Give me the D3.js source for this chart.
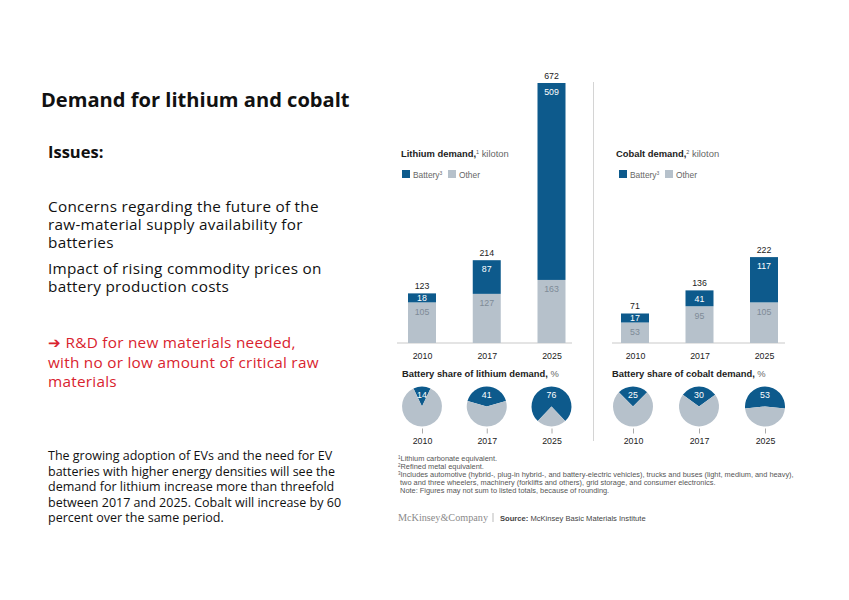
<!DOCTYPE html>
<html>
<head>
<meta charset="utf-8">
<script src="https://cdn.jsdelivr.net/npm/d3@7"></script>
<style>
  body { margin: 0; background: #fff; }
  svg { display: block; }
</style>
</head>
<body>
<div id="wrapper"></div>
<script>
const years = ["2010", "2017", "2025"];
const lithiumBattery = [18, 87, 509];
const lithiumOther = [105, 127, 163];
const lithiumTotal = [123, 214, 672];
const cobaltBattery = [17, 41, 117];
const cobaltOther = [53, 95, 105];
const cobaltTotal = [71, 136, 222];
const lithiumShare = [14, 41, 76];
const cobaltShare = [25, 30, 53];

const issueLines = [
  "Concerns regarding the future of the",
  "raw-material supply availability for",
  "batteries",
];
const impactLines = [
  "Impact of rising commodity prices on",
  "battery production costs",
];
const redLines = [
  "\u2794 R&D for new materials needed,",
  "with no or low amount of critical raw",
  "materials",
];
const paragraphLines = [
  "The growing adoption of EVs and the need for EV",
  "batteries with higher energy densities will see the",
  "demand for lithium increase more than threefold",
  "between 2017 and 2025. Cobalt will increase by 60",
  "percent over the same period.",
];
const footnotes = [
  ["1", "Lithium carbonate equivalent."],
  ["2", "Refined metal equivalent."],
  ["3", "Includes automotive (hybrid-, plug-in hybrid-, and battery-electric vehicles), trucks and buses (light, medium, and heavy),"],
  ["", " two and three wheelers, machinery (forklifts and others), grid storage, and consumer electronics."],
  ["", " Note: Figures may not sum to listed totals, because of rounding."],
];

const blue = "#0d5a8c";
const grey = "#b6c1cb";
const slideFont = "'Open Sans', sans-serif";
const chartFont = "'Liberation Sans', Arial, sans-serif";

const svg = d3.select("#wrapper")
  .append("svg")
  .attr("width", 849)
  .attr("height", 600);

svg.append("rect").attr("width", 849).attr("height", 600).attr("fill", "#fff");

// left-hand slide text
const left = svg.append("g").attr("font-family", slideFont).attr("fill", "#111");

left.append("text")
  .attr("x", 41).attr("y", 107)
  .attr("font-size", 20.1).attr("font-weight", "bold")
  .text("Demand for lithium and cobalt");

left.append("text")
  .attr("x", 48).attr("y", 158)
  .attr("font-size", 16.5).attr("font-weight", "bold")
  .text("Issues:");

left.selectAll(".issue")
  .data(issueLines)
  .join("text")
  .attr("x", 48).attr("y", (d, i) => 211.7 + i * 18.3)
  .attr("font-size", 15.3)
  .attr("letter-spacing", 0.27)
  .text(d => d);

left.selectAll(".impact")
  .data(impactLines)
  .join("text")
  .attr("x", 48).attr("y", (d, i) => 273.5 + i * 18.3)
  .attr("font-size", 15.3)
  .attr("letter-spacing", 0.27)
  .text(d => d);

left.selectAll(".red")
  .data(redLines)
  .join("text")
  .attr("x", 48).attr("y", (d, i) => 348 + i * 19.5)
  .attr("font-size", 15.3)
  .attr("letter-spacing", 0.27)
  .attr("fill", "#d9232e")
  .text(d => d);

left.selectAll(".para")
  .data(paragraphLines)
  .join("text")
  .attr("x", 48).attr("y", (d, i) => 460 + i * 15.5)
  .attr("font-size", 12.5)
  .text(d => d);

// stacked bar panels
const yScale = d3.scaleLinear()
  .domain([0, 672])
  .range([343, 83]);

const barWidth = 28;
const minSegment = 9; // small battery segments are drawn tall enough for their label

function drawBars(g, xRange, battery, other, total, axisRange) {
  const xScale = d3.scalePoint().domain(years).range(xRange);

  g.append("line")
    .attr("x1", axisRange[0]).attr("x2", axisRange[1])
    .attr("y1", yScale(0)).attr("y2", yScale(0))
    .attr("stroke", "#c9c9c9").attr("stroke-width", 1);

  const rows = years.map((y, i) => {
    const otherTop = yScale(other[i]);
    const batteryTop = Math.min(yScale(total[i]), otherTop - minSegment);
    return { year: y, battery: battery[i], other: other[i], total: total[i], otherTop, batteryTop };
  });

  g.selectAll(".other")
    .data(rows)
    .join("rect")
    .attr("x", d => xScale(d.year) - barWidth / 2)
    .attr("width", barWidth)
    .attr("y", d => d.otherTop)
    .attr("height", d => yScale(0) - d.otherTop)
    .attr("fill", grey);

  g.selectAll(".battery")
    .data(rows)
    .join("rect")
    .attr("x", d => xScale(d.year) - barWidth / 2)
    .attr("width", barWidth)
    .attr("y", d => d.batteryTop)
    .attr("height", d => d.otherTop - d.batteryTop)
    .attr("fill", blue);

  g.selectAll(".otherLabel")
    .data(rows)
    .join("text")
    .attr("x", d => xScale(d.year))
    .attr("y", d => d.otherTop + 12.5)
    .attr("text-anchor", "middle")
    .attr("font-size", 8.8)
    .attr("fill", "#7e8b97")
    .text(d => d.other);

  g.selectAll(".batteryLabel")
    .data(rows)
    .join("text")
    .attr("x", d => xScale(d.year))
    .attr("y", d => Math.min(d.batteryTop + 11.5, d.otherTop - 1.2))
    .attr("text-anchor", "middle")
    .attr("font-size", 8.8)
    .attr("fill", "#fff")
    .text(d => d.battery);

  g.selectAll(".totalLabel")
    .data(rows)
    .join("text")
    .attr("x", d => xScale(d.year))
    .attr("y", d => d.batteryTop - 4)
    .attr("text-anchor", "middle")
    .attr("font-size", 8.8)
    .attr("fill", "#222")
    .text(d => d.total);

  const xAxis = d3.axisBottom(xScale).tickSize(0).tickPadding(10);
  const axisG = g.append("g")
    .attr("transform", `translate(0,${yScale(0)})`)
    .call(xAxis);
  axisG.select(".domain").remove();
  axisG.selectAll("text")
    .attr("font-family", chartFont)
    .attr("font-size", 8.8)
    .attr("fill", "#222");
}

function drawTitle(g, x, y, bold, sup, rest) {
  const t = g.append("text").attr("x", x).attr("y", y).attr("font-size", 9.4).attr("fill", "#222");
  t.append("tspan").attr("font-weight", "bold").text(bold);
  if (sup) t.append("tspan").attr("font-size", 5.5).attr("dy", -3.5).attr("fill", "#555").text(sup);
  t.append("tspan").attr("dy", sup ? 3.5 : 0).attr("fill", "#666").text(rest);
}

function drawLegend(g, x, y) {
  g.append("rect").attr("x", x).attr("y", y).attr("width", 8).attr("height", 8).attr("fill", blue);
  const t = g.append("text").attr("x", x + 11).attr("y", y + 7.5).attr("font-size", 8.4).attr("fill", "#666");
  t.append("tspan").text("Battery");
  t.append("tspan").attr("font-size", 5).attr("dy", -3).text("3");
  g.append("rect").attr("x", x + 46).attr("y", y).attr("width", 8).attr("height", 8).attr("fill", grey);
  g.append("text").attr("x", x + 57).attr("y", y + 7.5).attr("font-size", 8.4).attr("fill", "#666").text("Other");
}

function drawPies(g, xRange, shares) {
  const xScale = d3.scalePoint().domain(years).range(xRange);
  const cy = 406.5;
  const r = 20;
  const arc = d3.arc().innerRadius(0).outerRadius(r);

  years.forEach((year, i) => {
    const share = shares[i];
    const start = -share / 100 * Math.PI;
    const pie = d3.pie().sort(null).startAngle(start).endAngle(start + 2 * Math.PI);
    const slices = pie([share, 100 - share]);
    const pg = g.append("g").attr("transform", `translate(${xScale(year)},${cy})`);
    pg.selectAll("path")
      .data(slices)
      .join("path")
      .attr("d", arc)
      .attr("fill", (d, j) => j === 0 ? blue : grey);
    pg.append("text")
      .attr("y", -8.5)
      .attr("text-anchor", "middle")
      .attr("font-size", 8.8)
      .attr("fill", "#fff")
      .text(share);
  });

  const axisG = g.append("g")
    .attr("transform", `translate(0,${cy + r + 2})`)
    .call(d3.axisBottom(xScale).tickSize(5).tickPadding(4));
  axisG.select(".domain").remove();
  axisG.selectAll("line").attr("stroke", "#aaa");
  axisG.selectAll("text")
    .attr("font-family", chartFont)
    .attr("font-size", 8.8)
    .attr("fill", "#222");
}

const chart = svg.append("g").attr("font-family", chartFont);

// separator
chart.append("line")
  .attr("x1", 593.5).attr("x2", 593.5)
  .attr("y1", 82).attr("y2", 441)
  .attr("stroke", "#d4d4d4").attr("stroke-width", 1);

drawTitle(chart, 401, 157, "Lithium demand,", "1", " kiloton");
drawLegend(chart, 402, 170);
drawBars(chart.append("g"), [422, 551.5], lithiumBattery, lithiumOther, lithiumTotal, [397, 572]);

drawTitle(chart, 616, 157, "Cobalt demand,", "2", " kiloton");
drawLegend(chart, 619, 170);
drawBars(chart.append("g"), [635, 764], cobaltBattery, cobaltOther, cobaltTotal, [612, 785]);

drawTitle(chart, 402, 377, "Battery share of lithium demand,", null, " %");
drawPies(chart.append("g"), [422, 551.5], lithiumShare);

drawTitle(chart, 612, 377, "Battery share of cobalt demand,", null, " %");
drawPies(chart.append("g"), [633, 765], cobaltShare);

// footnotes and source
const foot = chart.selectAll(".foot")
  .data(footnotes)
  .join("text")
  .attr("x", 398)
  .attr("y", (d, i) => 461 + i * 8)
  .attr("font-size", 7.4)
  .attr("fill", "#555")
  .attr("xml:space", "preserve");
foot.append("tspan").attr("font-size", 4.5).attr("dy", -2.5).text(d => d[0]);
foot.append("tspan").attr("dy", d => d[0] ? 2.5 : 0).text(d => d[1]);

chart.append("text")
  .attr("x", 398).attr("y", 521)
  .attr("font-family", "'Liberation Serif', serif")
  .attr("font-size", 10.2)
  .attr("fill", "#8a8a8a")
  .text("McKinsey&Company");

chart.append("line")
  .attr("x1", 493).attr("x2", 493)
  .attr("y1", 513).attr("y2", 522)
  .attr("stroke", "#bbb");

const src = chart.append("text").attr("x", 500).attr("y", 521).attr("font-size", 7.6).attr("fill", "#444");
src.append("tspan").attr("font-weight", "bold").text("Source:");
src.append("tspan").text(" McKinsey Basic Materials Institute");
</script>
</body>
</html>
